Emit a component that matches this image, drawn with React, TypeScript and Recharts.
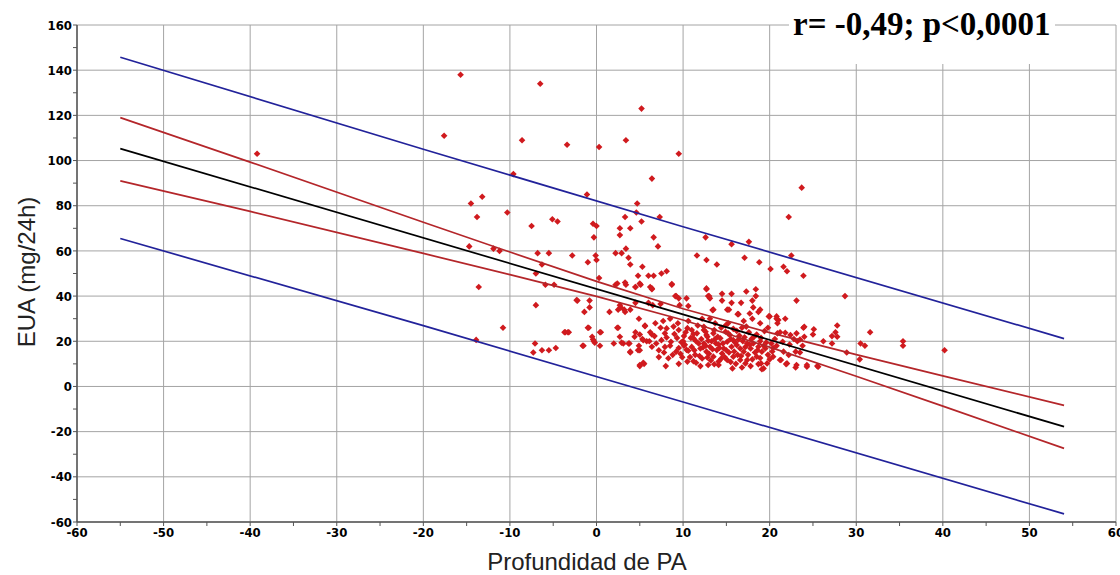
import { ScatterChart, Scatter, XAxis, YAxis, CartesianGrid, Label } from "recharts";

// Axis ticks (minor ticks every 5 on x and every 10 on y; labels on the major ones)
const X_TICKS = [-60, -55, -50, -45, -40, -35, -30, -25, -20, -15, -10, -5, 0, 5, 10, 15, 20, 25, 30, 35, 40, 45, 50, 55, 60];
const X_LABELS = [-60, -50, -40, -30, -20, -10, 0, 10, 20, 30, 40, 50, 60];
const Y_TICKS = [-60, -50, -40, -30, -20, -10, 0, 10, 20, 30, 40, 50, 60, 70, 80, 90, 100, 110, 120, 130, 140, 150, 160];
const Y_LABELS = [-60, -40, -20, 0, 20, 40, 60, 80, 100, 120, 140, 160];

// Regression line
const FIT_X = [-55, 54];
const FIT_Y = [105.3, -17.8];

// 95% confidence band of the mean
const CI_X = [-55, -40, -20, -10, 0, 10, 20, 30, 40, 54];
const CI_UPPER = [119.0, 99.3, 72.7, 59.5, 46.5, 34.4, 23.8, 14.1, 4.7, -8.4];
const CI_LOWER = [91.0, 77.5, 58.9, 49.5, 39.9, 29.4, 17.4, 4.5, -8.7, -27.4];

// 95% prediction band
const PI_X = [-55, -20, 10, 54];
const PI_UPPER = [145.7, 105.0, 70.7, 21.2];
const PI_LOWER = [65.5, 26.9, -6.9, -56.4];

// Profundidad de PA (x) vs EUA mg/24h (y)
const PATIENTS: [number, number][] = [
  [-39.2, 103], [-15.7, 138], [-6.5, 134], [5.2, 123], [-17.6, 111], [-8.6, 109], [-3.4, 107], [0.3, 106],
  [3.4, 109], [9.5, 103], [6.4, 92], [-9.6, 94], [-13.2, 84], [-1.1, 85], [23.7, 88],
  [-14.5, 81], [-13.8, 75], [-10.3, 77], [-7.5, 71], [-5.1, 74], [-4.5, 73], [0, 71], [-0.4, 72], [-0.3, 66],
  [4.7, 81], [4.6, 77], [3.3, 75], [5.2, 73], [2.7, 70], [3.9, 70], [2.7, 67], [7.3, 75], [6.6, 66], [7.1, 62],
  [11.6, 58], [-14.7, 62], [-11.9, 61], [-11.2, 60], [-6.8, 59], [-5.5, 59], [-2.8, 58], [-6.3, 54], [-7, 50],
  [-5.9, 45], [-4.9, 45], [-13.6, 44], [-1, 55], [-0.1, 58], [0, 56], [0.3, 48], [2.2, 59], [2.9, 59],
  [3.4, 61], [3.7, 57], [3.9, 54], [5.3, 53], [4.8, 49], [6, 49], [5.1, 45], [6.2, 44], [3.4, 45], [2.2, 45],
  [4.5, 44], [6.6, 49], [7.5, 50], [8.1, 51], [8.7, 45], [9.2, 40], [9.5, 39], [10.4, 39], [6.4, 43],
  [-2.2, 38], [-0.8, 38], [-0.8, 35], [-1.4, 33], [-7, 36], [-10.8, 26], [-13.9, 20.6], [-3.6, 24], [-3.3, 24],
  [-7.1, 19], [-7.3, 15], [-6.3, 16], [-5.5, 16], [-4.7, 17], [-1.6, 18], [-1, 26], [-0.5, 22], [-0.3, 20],
  [0.4, 18], [0.5, 24], [1.5, 33], [2.4, 26], [2.5, 34], [2.8, 35], [3.2, 34], [3.9, 34], [2, 19], [2.7, 22],
  [3.1, 19], [3.8, 19], [4.9, 30], [5.6, 27], [4.4, 22], [5.3, 21], [5.8, 20], [6.4, 23], [3.9, 15], [4.8, 16],
  [5, 9.5], [5.5, 10],
  [22.2, 75], [12.6, 66], [15.6, 63], [17.6, 64], [12.7, 56], [13.9, 54], [17.1, 57], [18.8, 55], [20.1, 52],
  [21.6, 53], [22, 51], [22.5, 58], [23.9, 49], [12.7, 43], [12.9, 40], [14.5, 41], [15.6, 41], [17.3, 42],
  [18.4, 43], [18.4, 40], [23.1, 38], [28.7, 40], [14.5, 38], [15.6, 37], [16.7, 37], [18, 38], [13.5, 34],
  [15.1, 34], [16.4, 32], [18.1, 35], [18.9, 34], [19.9, 31], [20.8, 31], [21, 29.4], [21.8, 30], [23.9, 26],
  [25.1, 25.3], [25, 23], [26.2, 20], [27.2, 19], [27.6, 24], [27.8, 22], [27.8, 27], [28.9, 15], [30.5, 19],
  [31, 18], [30.4, 12], [31.6, 24], [35.4, 20], [35.4, 18], [40.2, 16], [25.6, 8.7], [24.3, 9.5], [23.1, 9.5],
  [22, 10.2], [21.2, 11.7], [19.3, 8], [19, 10.2], [23.5, 15], [23.8, 18], [24, 22], [23.2, 20], [20.4, 17],
  [20.4, 13.2],
  [2.4, 45.6], [3.3, 46], [4.5, 44], [5, 45.6], [6.4, 43.4], [8.7, 45.3], [12.7, 43.4], [-2.3, 38.2], [2.7, 36],
  [3.3, 33], [4.5, 37], [6, 37], [6.5, 36], [7.4, 36.5], [9.1, 40], [9.6, 36], [10.6, 35.6], [-3.7, 24],
  [-3.2, 24], [-1.5, 18], [-0.9, 26], [-0.2, 19.4], [2.5, 26], [3.7, 19], [3.9, 15.4], [4.5, 24], [5, 23],
  [4.9, 18], [5, 16], [5.6, 26.7], [5.4, 20.5], [6.2, 24], [6.1, 20], [6.7, 22.3], [7.4, 26], [7.2, 16],
  [8.1, 25.7], [8.1, 21.7], [8.5, 18], [9, 23.2], [9.4, 28], [9.5, 25], [9.2, 15.4], [9.9, 12.9], [10.1, 22.3],
  [10.1, 18], [10.6, 15.8], [11, 25], [11.2, 21.3], [11.6, 23.5], [11.8, 19], [12, 16.8], [12.4, 25], [12.8, 22],
  [11.2, 11.2], [12, 9], [5, 9], [5.4, 10.5], [7.5, 20.5], [6.4, 17.6], [2.9, 19.4], [0.4, 24], [-0.4, 20.8],
  [13, 40], [13.1, 39], [13.4, 33.8], [15.3, 34], [16.3, 32], [17.7, 32.3], [18, 30], [18.7, 33], [20, 31],
  [20.8, 30], [12.2, 30], [13.1, 30], [13.7, 28], [20.9, 28], [20.9, 23.5], [21.2, 24], [21.8, 23.8],
  [22.4, 22.8], [23.1, 23.5], [23.5, 20.8], [24, 26.4], [27.2, 22.3], [21.6, 15.4], [22.2, 13.9], [23, 15.4],
  [21.3, 11.7], [21.9, 9.9], [23, 8.4], [24.3, 8.7], [25.5, 9], [18.7, 9.9], [19.1, 7.6],
  [12.4, 26.4], [12.7, 22.8], [13.5, 23.5], [14.3, 21.3], [14.9, 24.2], [15.4, 22.8], [15.1, 19.8], [15.8, 20.5],
  [16.2, 18.3], [15.6, 17.6], [16.6, 16.8], [17, 15.4], [17.4, 19], [17.8, 16.8], [18.1, 19], [18.7, 17.6],
  [19.1, 15.4], [19.5, 16.8], [18.5, 13.2], [17.4, 11.7], [16.6, 11.7], [15.8, 13.2], [15.1, 11.7], [14.1, 11],
  [13.5, 13.2], [12.7, 15.4], [12.4, 19], [13.1, 17.6], [13.9, 16.1], [14.5, 14.6], [16.8, 8.4], [14.1, 9.5],
  [12.9, 9.5], [12.2, 12.4], [17.8, 9], [19.7, 10.2],
  [8.8, 14], [9.5, 17], [10, 20], [10.3, 24], [10.8, 13], [11, 17.5], [11.4, 14], [11.5, 20], [12.1, 21],
  [12.6, 18], [13, 14.5], [13.3, 20], [13.8, 19], [14, 22], [14.2, 17], [14.6, 19], [15, 16], [15.3, 15],
  [15.5, 21], [16, 19.5], [16.3, 14], [16.5, 22.5], [16.9, 20], [17.2, 17.5], [17.5, 14], [17.9, 21], [18.3, 15],
  [18.9, 20], [19.3, 18], [19.8, 14], [20.2, 19], [20.6, 21], [13.6, 25], [14.4, 26], [15.8, 25.5], [16.8, 26],
  [17.6, 24], [18.5, 23], [19.4, 24.5], [19.8, 26], [11.7, 27], [10.6, 29], [15.2, 28], [17, 29], [18.9, 28],
  [16.1, 10], [13.2, 11.5], [11.5, 10.5], [10.5, 11], [9.5, 10], [8.3, 12.5], [7.8, 15], [7.2, 13], [8, 9],
  [15.7, 8], [18, 12], [20, 12], [14.8, 13], [12.8, 12.8], [10.4, 16.2], [9.8, 19.6], [6.8, 28], [7.7, 29],
  [8.5, 30], [6.9, 19], [7.9, 17.5], [8.9, 26.5],
  [9.7, 14.5], [10.2, 18.5], [10.9, 21.5], [11.3, 16], [11.9, 13.5], [12.3, 17.3], [12.9, 20.2], [13.4, 16.5],
  [13.7, 21], [14.1, 18.6], [14.7, 16.8], [15.2, 23.5], [15.9, 15.5], [16.4, 20.8], [16.7, 13.5], [17.1, 21.8],
  [17.7, 18.5], [18.2, 22], [18.6, 16], [19, 21.5], [19.6, 19.5], [20.3, 15.5], [20.8, 18], [21.5, 19.8],
  [22.3, 18.6], [22.8, 21], [10.5, 25.8], [11.2, 23.2], [12.6, 24.2], [14.9, 27], [16.2, 24.6], [17.3, 26.5],
  [9.3, 21.5], [8.6, 19.8], [7.9, 23.5], [14.4, 12.3], [15.5, 10.8], [17.2, 10.2], [18.9, 12.6], [13.6, 9.8],
];

const toPoints = (xs: number[], ys: number[]) => xs.map((x, i) => ({ x, y: ys[i] }));

const pointData = PATIENTS.map(([x, y]) => ({ x, y }));
const fitData = toPoints(FIT_X, FIT_Y);
const ciUpperData = toPoints(CI_X, CI_UPPER);
const ciLowerData = toPoints(CI_X, CI_LOWER);
const piUpperData = toPoints(PI_X, PI_UPPER);
const piLowerData = toPoints(PI_X, PI_LOWER);

const POINT_RED = "#d01a1e";
const CI_RED = "#b4262a";
const PI_BLUE = "#22229a";
const GRID = "#a4a4a4";
const AXIS = "#555555";

const tickFont = {
  fontFamily: "'Liberation Sans Narrow', 'DejaVu Sans Condensed', 'Arial Narrow', sans-serif",
  fontWeight: 700,
  fontSize: 13,
  fill: "#000",
};

const titleFont = "'Liberation Sans', Arial, sans-serif";

function Diamond(props: any) {
  const { cx, cy } = props;
  if (cx == null || cy == null) return <g />;
  const r = 3.3;
  return (
    <polygon
      points={`${cx},${cy - r} ${cx + r},${cy} ${cx},${cy + r} ${cx - r},${cy}`}
      fill={POINT_RED}
    />
  );
}

const NoMarker = () => <g />;

function XTick(props: any) {
  const { x, y, payload } = props;
  if (!X_LABELS.includes(payload.value)) return <g />;
  return (
    <text x={x} y={y} dy="0.72em" textAnchor="middle" style={tickFont}>
      {payload.value}
    </text>
  );
}

function YTick(props: any) {
  const { x, y, payload } = props;
  if (!Y_LABELS.includes(payload.value)) return <g />;
  return (
    <text x={x} y={y} dy="0.36em" textAnchor="end" style={tickFont}>
      {payload.value}
    </text>
  );
}

const XTitle = () => (
  <text x={587} y={570} textAnchor="middle" fontFamily={titleFont} fontSize={24} fill="#222">
    Profundidad de PA
  </text>
);

const YTitle = () => (
  <text
    x={0}
    y={0}
    transform="translate(35,272) rotate(-90)"
    textAnchor="middle"
    fontFamily={titleFont}
    fontSize={24}
    fill="#222"
  >
    EUA (mg/24h)
  </text>
);

export default function App() {
  const lineStyle = (stroke: string) => ({ stroke, strokeWidth: 1.7 });
  return (
    <div style={{ position: "absolute", left: 0, top: 0, width: 1120, height: 575, background: "#fff" }}>
      <ScatterChart width={1120} height={575} margin={{ top: 25, right: 4, bottom: 0, left: 0 }}>
        <CartesianGrid stroke={GRID} strokeWidth={1} horizontalValues={Y_LABELS} verticalValues={X_LABELS} />
        <XAxis
          type="number"
          dataKey="x"
          domain={[-60, 60]}
          ticks={X_TICKS}
          interval={0}
          height={53}
          tickSize={4}
          tickMargin={2}
          axisLine={{ stroke: AXIS, strokeWidth: 1.5 }}
          tickLine={{ stroke: AXIS }}
          tick={<XTick />}
          allowDataOverflow
        >
          <Label content={<XTitle />} />
        </XAxis>
        <YAxis
          type="number"
          dataKey="y"
          domain={[-60, 160]}
          ticks={Y_TICKS}
          interval={0}
          width={77}
          tickSize={4}
          tickMargin={1}
          axisLine={{ stroke: AXIS, strokeWidth: 1.5 }}
          tickLine={{ stroke: AXIS }}
          tick={<YTick />}
          allowDataOverflow
        >
          <Label content={<YTitle />} />
        </YAxis>
        <Scatter data={pointData} shape={<Diamond />} isAnimationActive={false} />
        <Scatter data={piUpperData} line={lineStyle(PI_BLUE)} shape={<NoMarker />} isAnimationActive={false} />
        <Scatter data={piLowerData} line={lineStyle(PI_BLUE)} shape={<NoMarker />} isAnimationActive={false} />
        <Scatter data={ciUpperData} line={lineStyle(CI_RED)} shape={<NoMarker />} isAnimationActive={false} />
        <Scatter data={ciLowerData} line={lineStyle(CI_RED)} shape={<NoMarker />} isAnimationActive={false} />
        <Scatter data={fitData} line={lineStyle("#000")} shape={<NoMarker />} isAnimationActive={false} />
      </ScatterChart>
      <svg width={266} height={64} style={{ position: "absolute", left: 789, top: 0 }}>
        <rect x={0} y={0} width={266} height={64} fill="#fff" />
        <text
          x={4}
          y={35}
          fontFamily="'Liberation Serif', 'Times New Roman', serif"
          fontWeight={700}
          fontSize={33}
          fill="#000"
        >
          r= -0,49; p&lt;0,0001
        </text>
      </svg>
    </div>
  );
}
